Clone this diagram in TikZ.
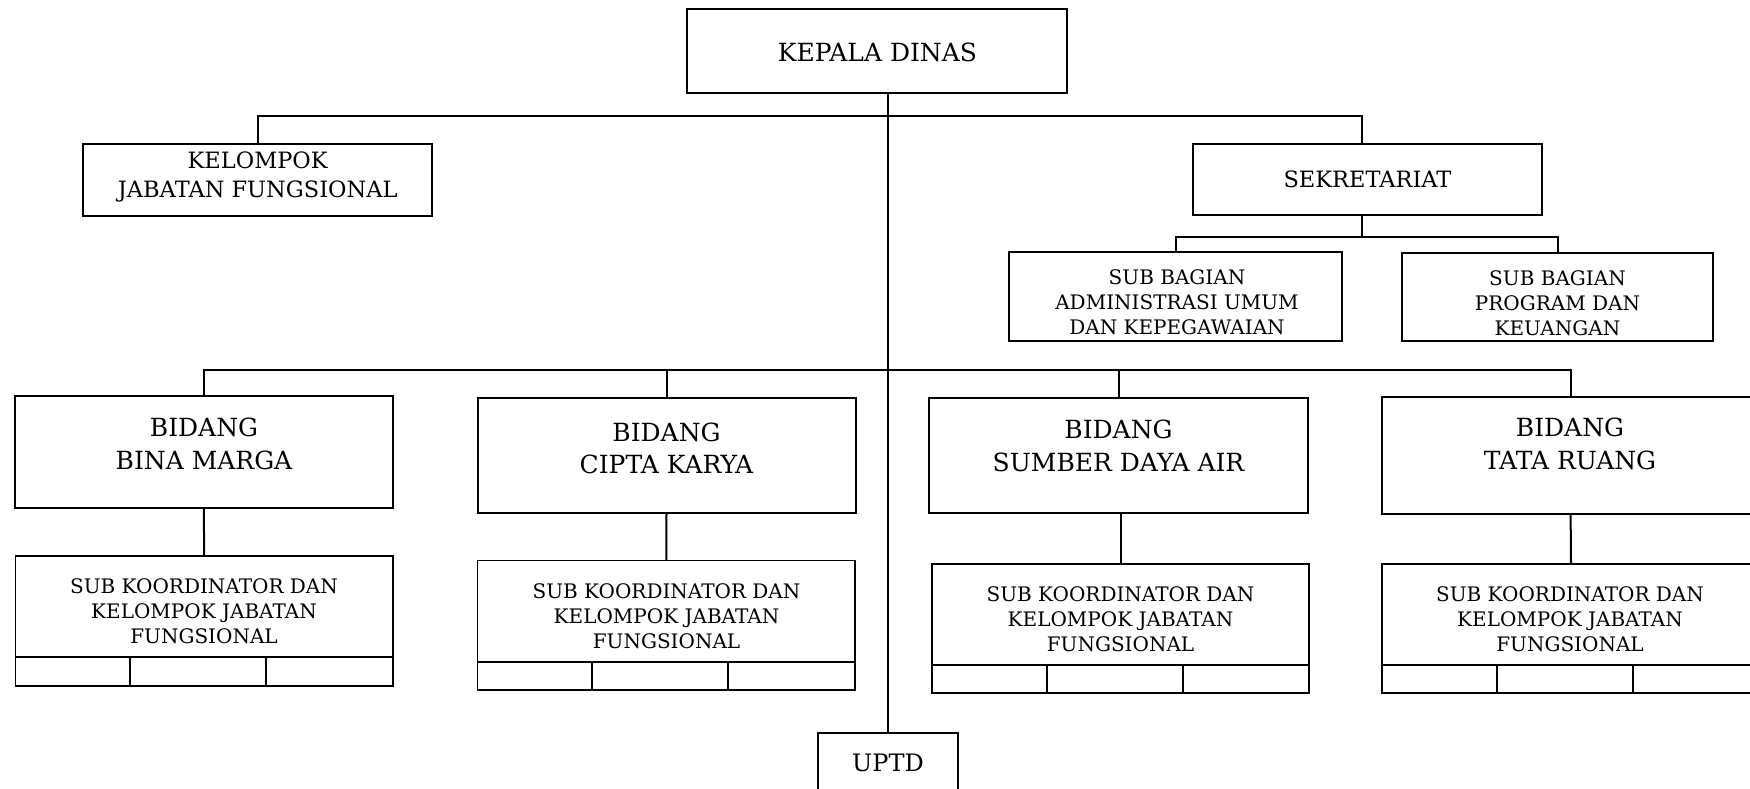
\documentclass[tikz,border=0pt]{standalone}
\usepackage{fontspec}
\setmainfont{DejaVu Serif}
\begin{document}
\begin{tikzpicture}[x=1pt,y=-1pt,
  box/.style={draw, line width=2pt, inner sep=0pt, outer sep=0pt, anchor=north west},
  subbox/.style={draw, line width=1.5pt, inner sep=0pt, outer sep=0pt, anchor=north west},
  conn/.style={line width=2pt},
  txt/.style={align=center, inner sep=0pt, outer sep=0pt, anchor=center},
  fA/.style={font=\fontsize{25}{32.3}\selectfont},
  fU/.style={font=\fontsize{24}{30}\selectfont},
  fB/.style={font=\fontsize{22.5}{29}\selectfont},
  fC/.style={font=\fontsize{20}{24.6}\selectfont},
  fD/.style={font=\fontsize{20}{25}\selectfont}]
\path[use as bounding box, fill=white] (0,0) rectangle (1750,788);
\clip (0,0) rectangle (1750,788);

% boxes
\node[box, minimum width=380pt, minimum height=84pt] (kd) at (687,8.5) {};
\node[box, minimum width=349pt, minimum height=72pt] (kjf) at (83,144) {};
\node[box, minimum width=349pt, minimum height=71.5pt] (sek) at (1193,143.5) {};
\node[box, minimum width=333pt, minimum height=89pt] (sba) at (1009,252) {};
\node[box, minimum width=311pt, minimum height=88pt] (sbp) at (1402,253) {};
\node[box, minimum width=378.5pt, minimum height=111.5pt] (bm) at (14.5,396) {};
\node[box, minimum width=378pt, minimum height=114.5pt] (ck) at (477.5,398) {};
\node[box, minimum width=379pt, minimum height=114.5pt] (sda) at (929,398) {};
\node[box, minimum width=378pt, minimum height=116.5pt] (tr) at (1381.6,397) {};
\node[subbox, minimum width=377.5pt, minimum height=130pt] (skbm) at (15.5,556) {};
\node[subbox, minimum width=377.4pt, minimum height=129.3pt] (skck) at (477.6,560.7) {};
\node[subbox, minimum width=377pt, minimum height=129pt] (sksda) at (932,564) {};
\node[subbox, minimum width=378pt, minimum height=129pt] (sktr) at (1382,564) {};
\node[box, minimum width=140pt, minimum height=90pt] (uptd) at (818,733) {};

% texts
\node[txt, fA] (kdT) at (877.5,52.6) {KEPALA DINAS};
\node[txt, fB] (kjfT) at (257.7,176.5) {KELOMPOK\\JABATAN FUNGSIONAL};
\node[txt, fB] (sekT) at (1367.5,179.7) {SEKRETARIAT};
\node[txt, fC] (sbaT) at (1177,302.2) {SUB BAGIAN\\ADMINISTRASI UMUM\\DAN KEPEGAWAIAN};
\node[txt, fC] (sbpT) at (1557.5,303.2) {SUB BAGIAN\\PROGRAM DAN\\KEUANGAN};
\node[txt, fA] (bmT) at (204,443.8) {BIDANG\\BINA MARGA};
\node[txt, fA] (ckT) at (666.5,448.7) {BIDANG\\CIPTA KARYA};
\node[txt, fA] (sdaT) at (1118.5,445.8) {BIDANG\\SUMBER DAYA AIR};
\node[txt, fA] (trT) at (1570,444) {BIDANG\\TATA RUANG};
\node[txt, fD] (skbmT) at (204,611.7) {SUB KOORDINATOR DAN\\KELOMPOK JABATAN\\FUNGSIONAL};
\node[txt, fD] (skckT) at (666.5,616.4) {SUB KOORDINATOR DAN\\KELOMPOK JABATAN\\FUNGSIONAL};
\node[txt, fD] (sksdaT) at (1120.5,619.7) {SUB KOORDINATOR DAN\\KELOMPOK JABATAN\\FUNGSIONAL};
\node[txt, fD] (sktrT) at (1570,619.7) {SUB KOORDINATOR DAN\\KELOMPOK JABATAN\\FUNGSIONAL};
\node[txt, fU] (uptdT) at (888,763.3) {UPTD};

% sub koordinator inner grid
\foreach \n in {skbm,skck,sksda,sktr}{
  \draw[conn] ([yshift=-101pt]\n.north west) -- ([yshift=-101pt]\n.north east);
  \draw[conn] ([xshift=114.5pt,yshift=-101pt]\n.north west) -- ([xshift=114.5pt]\n.south west);
  \draw[conn] ([xshift=250.5pt,yshift=-101pt]\n.north west) -- ([xshift=250.5pt]\n.south west);
}

% bus coordinates
\coordinate (b1) at (888,115.5);
\coordinate (b2) at (888,370);
\coordinate (b3) at (1362,236.5);

% connectors
\draw[conn] (kd.south -| uptd.north) -- (uptd.north);
\draw[conn] (kjf.north) -- (kjf.north |- b1) -- ([xshift=-5.5pt]sek.north |- b1) -- ([xshift=-5.5pt]sek.north);
\draw[conn] ([xshift=-5.5pt]sek.south) -- (b3);
\draw[conn] (sba.north) -- (sba.north |- b3) -- (sbp.north |- b3) -- (sbp.north);
\draw[conn] (bm.north) -- (bm.north |- b2) -- (tr.north |- b2) -- (tr.north);
\draw[conn] (ck.north) -- (ck.north |- b2);
\draw[conn] (sda.north) -- (sda.north |- b2);
\draw[conn] (bm.south) -- (skbm.north);
\draw[conn] (ck.south) -- (skck.north);
\draw[conn] (sksda.north |- sda.south) -- (sksda.north);
\draw[conn] (tr.south) -- (sktr.north);
\end{tikzpicture}
\end{document}
